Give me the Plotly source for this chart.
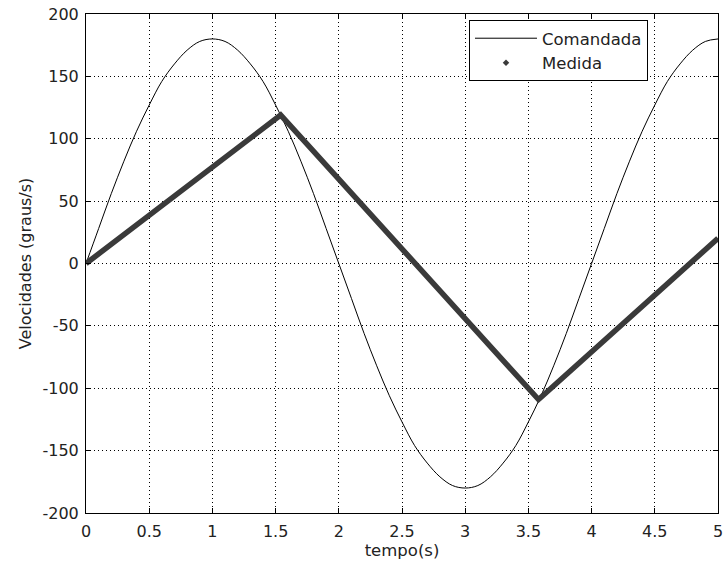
import plotly.graph_objects as go

# Commanded velocity (deg/s), read at 0.1 s steps
t_cmd = [round(i * 0.1, 1) for i in range(51)]
v_cmd = [0, 28, 56, 82, 106, 127, 146, 160, 171, 178,
         180, 178, 171, 160, 146, 127, 106, 82, 56, 28,
         0, -28, -56, -82, -106, -127, -146, -160, -171, -178,
         -180, -178, -171, -160, -146, -127, -106, -82, -56, -28,
         0, 28, 56, 82, 106, 127, 146, 160, 171, 178, 180]

# Measured velocity (deg/s)
t_med = [0, 0.1, 0.2, 0.3, 0.4, 0.5, 0.6, 0.7, 0.8, 0.9, 1.0, 1.1, 1.2, 1.3, 1.4, 1.5, 1.54,
         1.6, 1.7, 1.8, 1.9, 2.0, 2.1, 2.2, 2.3, 2.4, 2.5, 2.6, 2.7, 2.8, 2.9, 3.0, 3.1, 3.2,
         3.3, 3.4, 3.5, 3.58, 3.6, 3.7, 3.8, 3.9, 4.0, 4.1, 4.2, 4.3, 4.4, 4.5, 4.6, 4.7, 4.8,
         4.9, 5.0]
v_med = [0, 7.8, 15.6, 23.4, 31.2, 39, 46.8, 54.6, 62.4, 70.2, 78, 85.8, 93.6, 101.4, 109.2, 117, 119,
         112.3, 101.1, 89.9, 78.7, 67.5, 56.3, 45.1, 33.9, 22.7, 11.5, 0.3, -10.9, -22.1, -33.3, -44.5, -55.7, -66.9,
         -78.1, -89.3, -100.5, -109, -107.2, -98.1, -89, -79.9, -70.8, -61.7, -52.6, -43.5, -34.4, -25.3, -16.2, -7.1, 2,
         11.1, 20.2]

x_ticks = [0, 0.5, 1, 1.5, 2, 2.5, 3, 3.5, 4, 4.5, 5]
y_ticks = [-200, -150, -100, -50, 0, 50, 100, 150, 200]

FONT = "DejaVu Sans, sans-serif"
TXT = "#222222"

fig = go.Figure()
fig.add_trace(go.Scatter(x=t_cmd, y=v_cmd, mode="lines", name="Comandada",
                         line=dict(color="black", width=1, shape="spline")))
fig.add_trace(go.Scatter(x=t_med, y=v_med, mode="lines", showlegend=False,
                         line=dict(color="#3a3a3a", width=5.5)))
fig.add_trace(go.Scatter(x=[None], y=[None], mode="markers", name="Medida",
                         marker=dict(color="#3a3a3a", size=5, symbol="diamond")))

axis_common = dict(showline=True, linecolor="black", linewidth=1, mirror="ticks",
                   ticks="inside", ticklen=5, tickcolor="black",
                   showgrid=True, gridcolor="black", griddash="1px,3px", gridwidth=1,
                   zeroline=False, tickfont=dict(family=FONT, size=16, color=TXT))

fig.update_layout(
    width=728, height=570,
    margin=dict(l=86, r=5, t=12, b=57),
    paper_bgcolor="white", plot_bgcolor="white",
    font=dict(family=FONT, size=16, color=TXT),
    xaxis=dict(range=[0, 5], tickvals=x_ticks, ticktext=[str(v) for v in x_ticks],
               ticklabelstandoff=4,
               title=dict(text="tempo(s)", standoff=2, font=dict(size=16.5)), **axis_common),
    yaxis=dict(range=[-200, 200], tickvals=y_ticks, ticktext=[str(v) for v in y_ticks],
               ticklabelstandoff=3,
               title=dict(text="Velocidades (graus/s)", standoff=6, font=dict(size=16)), **axis_common),
    legend=dict(x=0.606, y=0.988, xanchor="left", yanchor="top",
                bordercolor="black", borderwidth=1, bgcolor="white",
                font=dict(family=FONT, size=16.5, color=TXT), itemwidth=62, tracegroupgap=0),
)

fig.write_html("out.html")
